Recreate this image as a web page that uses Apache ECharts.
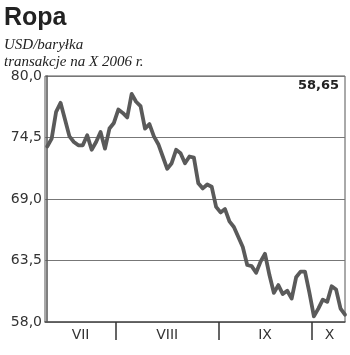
<!DOCTYPE html>
<html>
<head>
<meta charset="utf-8">
<script src="https://cdn.jsdelivr.net/npm/echarts@6/dist/echarts.min.js"></script>
<style>
html,body{margin:0;padding:0;background:#fff;}
#c{width:350px;height:355px;}
</style>
</head>
<body>
<div id="c"></div>
<script>
// Data
const prices = [
  73.7, 74.4, 76.8, 77.6, 76.1, 74.6, 74.1, 73.8, 73.8, 74.7,
  73.4, 74.1, 75.0, 73.5, 75.3, 75.8, 77.0, 76.7, 76.3, 78.4,
  77.7, 77.3, 75.3, 75.7, 74.6, 73.9, 72.8, 71.7, 72.2, 73.4,
  73.1, 72.2, 72.8, 72.7, 70.4, 69.95, 70.3, 70.1, 68.3, 67.8,
  68.1, 67.0, 66.5, 65.6, 64.7, 63.1, 63.0, 62.4, 63.4, 64.1,
  62.2, 60.6, 61.3, 60.5, 60.8, 60.1, 62.0, 62.5, 62.5, 60.6,
  58.5, 59.2, 60.0, 59.8, 61.2, 60.9, 59.2, 58.65
];
const months = ['VII', 'VIII', 'IX', 'X'];
const monthLengths = [16, 23, 21, 8];
const yTicks = [58.0, 63.5, 69.0, 74.5, 80.0];
const lastValue = '58,65';

// month boundaries and label centres (in day index units)
const boundaries = [];
const centres = [];
let start = 0;
monthLengths.forEach((n, i) => {
  centres.push(start - 0.5 + n / 2);
  start += n;
  if (i < monthLengths.length - 1) boundaries.push(start - 0.5);
});
const labelMap = {};
centres.forEach((c, i) => { labelMap[c.toFixed(3)] = months[i]; });

const seriesData = prices.map((v, i) => [i, v]);
const fmt = v => v.toFixed(1).replace('.', ',');

const chart = echarts.init(document.getElementById('c'));
chart.setOption({
  animation: false,
  backgroundColor: '#ffffff',
  grid: {
    left: 45, right: 5, top: 76, bottom: 33,
    show: true, borderColor: '#555', borderWidth: 1
  },
  xAxis: {
    type: 'value',
    min: -0.5,
    max: prices.length - 1,
    axisLine: { show: true, lineStyle: { color: '#555', width: 1.5 } },
    axisTick: {
      show: true, customValues: boundaries, length: 18,
      lineStyle: { color: '#333', width: 1.5 }
    },
    axisLabel: {
      show: true, customValues: centres, margin: 6,
      fontFamily: 'DejaVu Sans', fontSize: 14, color: '#333',
      formatter: v => labelMap[Number(v).toFixed(3)] || ''
    },
    splitLine: { show: false }
  },
  yAxis: {
    type: 'value',
    min: 58,
    max: 80,
    axisLine: { show: true, lineStyle: { color: '#555', width: 1.5 } },
    axisTick: { show: false, customValues: yTicks },
    axisLabel: {
      customValues: yTicks, margin: 3,
      fontFamily: 'DejaVu Sans', fontSize: 14, color: '#333',
      formatter: v => fmt(v)
    },
    splitLine: { show: true, lineStyle: { color: '#777', width: 1 } }
  },
  series: [{
    type: 'line',
    data: seriesData,
    showSymbol: false,
    lineStyle: { color: '#5a5a5a', width: 3.8, join: 'round', cap: 'round' }
  }],
  graphic: [
    {
      type: 'text', left: 4, top: 6,
      style: { text: 'Ropa', font: 'bold 25px "Liberation Sans", Arial, sans-serif', fill: '#222' }
    },
    {
      type: 'text', left: 4, top: 38,
      style: { text: 'USD/baryłka', font: 'italic 15px "Liberation Serif", serif', fill: '#222' }
    },
    {
      type: 'text', left: 4, top: 55,
      style: { text: 'transakcje na X 2006 r.', font: 'italic 15px "Liberation Serif", serif', fill: '#222' }
    },
    {
      type: 'text', right: 11, top: 79,
      style: { text: lastValue, font: 'bold 13px "DejaVu Sans", sans-serif', fill: '#222' }
    }
  ]
});
</script>
</body>
</html>
